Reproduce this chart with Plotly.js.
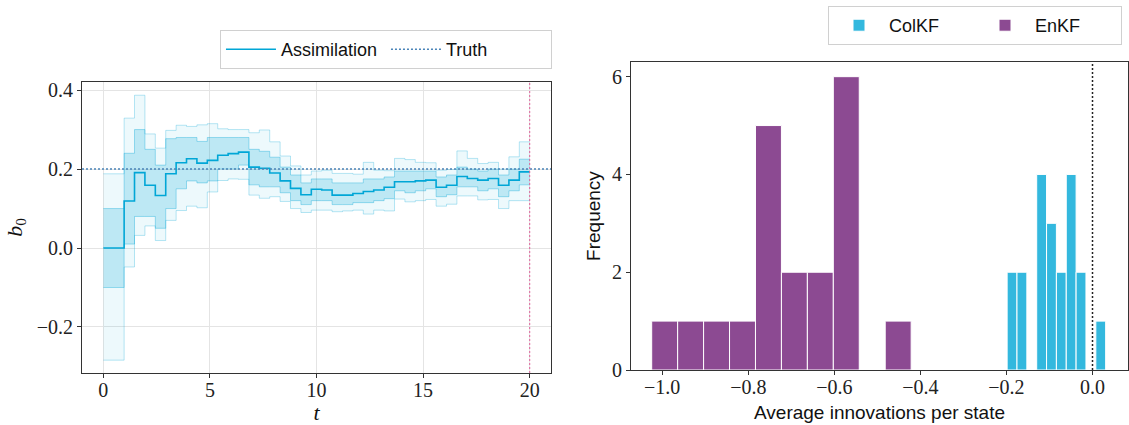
<!DOCTYPE html>
<html><head><meta charset="utf-8">
<script src="https://cdn.plot.ly/plotly-3.0.1.min.js"></script>
<style>html,body{margin:0;padding:0;background:#fff}#chart{width:1129px;height:425px}</style>
</head><body><div id="chart"></div>
<script>
// ---------- Left panel: assimilation of b0 over time ----------
const times = [0, 0.976, 1.463, 1.951, 2.439, 2.927, 3.415, 3.902, 4.390, 4.878, 5.366, 5.854, 6.341, 6.829, 7.317, 7.805, 8.293, 8.780, 9.268, 9.756, 10.244, 10.732, 11.220, 11.707, 12.195, 12.683, 13.171, 13.659, 14.146, 14.634, 15.122, 15.610, 16.098, 16.585, 17.073, 17.561, 18.049, 18.537, 19.024, 19.512, 20];
const ensMean = [0.000,0.119,0.191,0.159,0.133,0.188,0.216,0.226,0.215,0.222,0.235,0.239,0.243,0.205,0.202,0.190,0.170,0.151,0.135,0.149,0.147,0.134,0.134,0.138,0.143,0.147,0.154,0.168,0.168,0.170,0.172,0.154,0.159,0.181,0.176,0.172,0.176,0.159,0.172,0.193];
const ensMax = [0.188,0.329,0.387,0.289,0.253,0.298,0.311,0.308,0.312,0.315,0.302,0.300,0.300,0.292,0.299,0.269,0.233,0.208,0.185,0.195,0.197,0.189,0.189,0.187,0.217,0.197,0.196,0.227,0.224,0.217,0.216,0.197,0.199,0.246,0.227,0.214,0.217,0.200,0.231,0.269];
const ensMin = [-0.284,-0.048,0.032,0.056,0.019,0.070,0.095,0.106,0.102,0.142,0.171,0.175,0.174,0.134,0.126,0.130,0.118,0.100,0.090,0.096,0.096,0.092,0.094,0.096,0.086,0.096,0.094,0.124,0.117,0.120,0.123,0.106,0.111,0.132,0.132,0.122,0.123,0.100,0.120,0.120];
const ensInnerUp = [0.10,0.24,0.30,0.25,0.21,0.277,0.28,0.28,0.27,0.28,0.28,0.28,0.28,0.25,0.245,0.23,0.205,0.185,0.165,0.175,0.175,0.165,0.165,0.165,0.175,0.175,0.18,0.195,0.195,0.195,0.195,0.18,0.185,0.205,0.20,0.195,0.20,0.185,0.20,0.225];
const ensInnerLow = [-0.10,0.01,0.08,0.08,0.05,0.10,0.15,0.17,0.165,0.17,0.20,0.20,0.21,0.16,0.155,0.155,0.14,0.12,0.11,0.12,0.12,0.11,0.11,0.115,0.115,0.12,0.125,0.145,0.14,0.145,0.15,0.13,0.135,0.155,0.155,0.145,0.15,0.13,0.145,0.16];
const truthValue = 0.2;
const finalTime = 20;
const leftXRange = [-1, 21];
const leftYRange = [-0.3165, 0.4205];
const leftXTicks = [0, 5, 10, 15, 20];
const leftYTicks = [-0.2, 0.0, 0.2, 0.4];

// ---------- Right panel: histogram of average innovations ----------
const colkfEdges = [-0.1984,-0.1755,-0.1526,-0.1297,-0.1068,-0.0839,-0.0610,-0.0381,-0.0152,0.0077,0.0306];
const colkfCounts = [2,2,0,4,3,2,4,2,0,1];
const enkfEdges = [-1.0245,-0.9642,-0.9039,-0.8436,-0.7833,-0.7230,-0.6627,-0.6024,-0.5421,-0.4818,-0.4215];
const enkfCounts = [1,1,1,1,5,2,2,6,0,1];
const rightXRange = [-1.0725, 0.0825];
const rightYRange = [0, 6.3];
const rightXTicks = [-1.0, -0.8, -0.6, -0.4, -0.2, 0.0];
const rightYTicks = [0, 2, 4, 6];

const CYAN = '#00A6D6';
const stepY = a => a.concat([a[a.length - 1]]);
const centers = e => e.slice(0, -1).map((v, i) => (v + e[i + 1]) / 2);
const widths = e => e.slice(0, -1).map((v, i) => e[i + 1] - v);

const traces = [
  {x: times, y: stepY(ensMax), xaxis:'x', yaxis:'y', mode:'lines', line:{shape:'hv', color:'rgba(0,166,214,0.28)', width:1}, showlegend:false, hoverinfo:'skip'},
  {x: times, y: stepY(ensMin), xaxis:'x', yaxis:'y', mode:'lines', line:{shape:'hv', color:'rgba(0,166,214,0.28)', width:1}, fill:'tonexty', fillcolor:'rgba(0,166,214,0.07)', showlegend:false, hoverinfo:'skip'},
  {x: times, y: stepY(ensInnerUp), xaxis:'x', yaxis:'y', mode:'lines', line:{shape:'hv', color:'rgba(0,166,214,0.35)', width:1}, showlegend:false, hoverinfo:'skip'},
  {x: times, y: stepY(ensInnerLow), xaxis:'x', yaxis:'y', mode:'lines', line:{shape:'hv', color:'rgba(0,166,214,0.35)', width:1}, fill:'tonexty', fillcolor:'rgba(0,166,214,0.2)', showlegend:false, hoverinfo:'skip'},
  {x: times, y: stepY(ensMean), xaxis:'x', yaxis:'y', mode:'lines', name:'Assimilation', line:{shape:'hv', color:CYAN, width:1.6}, legend:'legend'},
  {x: leftXRange, y: [truthValue, truthValue], xaxis:'x', yaxis:'y', mode:'lines', name:'Truth', line:{color:'#4a84b8', width:1.5, dash:'2px,2px'}, legend:'legend'},
  {x: centers(colkfEdges), y: colkfCounts, width: widths(colkfEdges), type:'bar', xaxis:'x2', yaxis:'y2', name:'ColKF', marker:{color:'#33B8DE', line:{color:'#ffffff', width:1}}, legend:'legend2'},
  {x: centers(enkfEdges), y: enkfCounts, width: widths(enkfEdges), type:'bar', xaxis:'x2', yaxis:'y2', name:'EnKF', marker:{color:'#8C4A92', line:{color:'#ffffff', width:1}}, legend:'legend2'}
];

const tickFont = {family:'Liberation Serif, serif', size:20, color:'#222'};
const sansFont = {family:'Liberation Sans, Arial, sans-serif', size:18, color:'#111'};
const axisCommon = {ticks:'outside', ticklen:4, tickwidth:1, tickcolor:'#333', showline:true, linecolor:'#333', linewidth:1, mirror:true, zeroline:false, tickfont:tickFont};

const layout = {
  width:1129, height:425,
  margin:{l:82, r:1, t:62, b:52},
  paper_bgcolor:'#fff', plot_bgcolor:'#fff',
  barmode:'overlay', showlegend:true,
  xaxis: Object.assign({}, axisCommon, {domain:[0, 0.4484], anchor:'y', range:leftXRange, tickvals:leftXTicks, ticklabelstandoff:-5, showgrid:true, gridcolor:'#e4e4e4', gridwidth:1,
    title:{text:'<i>t</i>', font:{family:'Liberation Serif, serif', size:22, color:'#111'}, standoff:8}}),
  yaxis: Object.assign({}, axisCommon, {domain:[0, 0.9357], anchor:'x', range:leftYRange, tickvals:leftYTicks, tickformat:'.1f', showgrid:true, gridcolor:'#e4e4e4', gridwidth:1,
    title:{text:'<i>b</i><sub>0</sub>', font:{family:'Liberation Serif, serif', size:22, color:'#111'}, standoff:8}}),
  xaxis2: Object.assign({}, axisCommon, {domain:[0.5249, 1], anchor:'y2', range:rightXRange, tickvals:rightXTicks, tickformat:'.1f', ticklabelstandoff:-5, showgrid:false,
    title:{text:'Average innovations per state', font:{family:'Liberation Sans, Arial, sans-serif', size:19, color:'#111'}, standoff:8}}),
  yaxis2: Object.assign({}, axisCommon, {domain:[0.00965, 1], anchor:'x2', range:rightYRange, tickvals:rightYTicks, showgrid:false,
    title:{text:'Frequency', font:{family:'Liberation Sans, Arial, sans-serif', size:19, color:'#111'}, standoff:6}}),
  legend:{orientation:'h', traceorder:'normal', x:0.1319, y:1.1029, xanchor:'left', yanchor:'top', bordercolor:'#d0d0d0', borderwidth:1, bgcolor:'#fff', font:sansFont, itemwidth:50, entrywidth:100, entrywidthmode:'pixels'},
  legend2:{orientation:'h', traceorder:'normal', x:0.7132, y:1.180, xanchor:'left', yanchor:'top', bordercolor:'#d0d0d0', borderwidth:1, bgcolor:'#fff', font:sansFont, itemwidth:50, entrywidth:81, entrywidthmode:'pixels'},
  shapes:[
    {type:'line', xref:'x', yref:'y domain', x0:finalTime, x1:finalTime, y0:0, y1:1, line:{color:'#e0609a', width:1, dash:'2px,2px'}},
    {type:'line', xref:'x2', yref:'y2 domain', x0:0, x1:0, y0:0, y1:1, line:{color:'#222', width:1.5, dash:'2px,2px'}}
  ]
};

Plotly.newPlot('chart', traces, layout, {displayModeBar:false, staticPlot:true});
</script></body></html>
